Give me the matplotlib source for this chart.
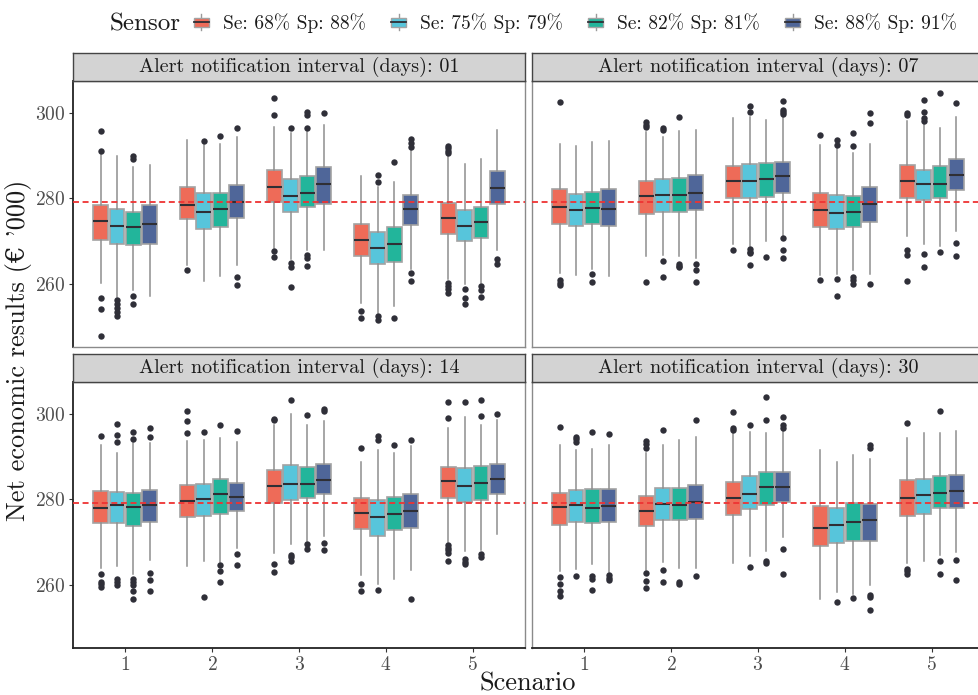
import matplotlib
matplotlib.use("Agg")
import matplotlib.pyplot as plt
from matplotlib.patches import Rectangle, Patch
from matplotlib.lines import Line2D
from matplotlib.legend_handler import HandlerBase

plt.rcParams['font.family'] = ['cmr10', 'DejaVu Serif']
plt.rcParams['axes.formatter.use_mathtext'] = True
plt.rcParams['axes.unicode_minus'] = False
plt.rcParams['lines.scale_dashes'] = False

# ---------------------------------------------------------------------------
# Data: rows = scenario 1..5, columns = sensor (68/88, 75/79, 82/81, 88/91)
# ---------------------------------------------------------------------------
scenarios = [1, 2, 3, 4, 5]
sensors = ["Se: 68% Sp: 88%", "Se: 75% Sp: 79%", "Se: 82% Sp: 81%", "Se: 88% Sp: 91%"]
sensor_colors = ["#EE6B58", "#57C5DB", "#22B59B", "#4F6699"]
intervals = ["01", "07", "14", "30"]
reference_value = 279.2

# interval 01
d01_lo = [[260.2, 256.9, 258.4, 257.2], [264.3, 260.6, 261.7, 264.3], [268.3, 265.8, 267.8, 267.8],
          [255.4, 253.1, 254.8, 263.5], [261.0, 260.0, 260.2, 268.0]]
d01_q1 = [[270.2, 269.2, 269.0, 269.4], [275.1, 272.8, 273.3, 275.4], [279.1, 276.8, 277.9, 278.8],
          [266.5, 264.5, 265.1, 273.8], [271.6, 270.1, 270.7, 278.6]]
d01_med = [[274.6, 273.5, 273.2, 274.0], [278.4, 276.8, 277.5, 279.1], [282.7, 280.6, 281.3, 283.5],
           [270.2, 268.3, 269.2, 277.6], [275.5, 273.6, 274.4, 282.5]]
d01_q3 = [[278.4, 277.6, 276.9, 278.4], [282.6, 281.2, 281.3, 283.2], [286.6, 284.5, 285.2, 287.3],
          [274.1, 272.1, 273.3, 280.8], [278.9, 277.4, 278.1, 286.5]]
d01_hi = [[290.4, 289.9, 287.3, 287.8], [293.7, 292.5, 292.9, 294.5], [296.9, 295.3, 295.7, 297.2],
          [285.3, 282.6, 283.8, 291.4], [290.0, 288.2, 289.2, 296.1]]
d01_out = [
    [[295.9, 291.1, 256.6, 254.1, 247.7], [256.1, 255.1, 254.2, 253.4, 252.5], [289.9, 289.3, 257.0, 255.3], []],
    [[263.1], [293.6], [294.7], [296.5, 261.6, 259.7]],
    [[303.7, 299.7, 267.7, 266.3], [296.5, 264.9, 263.9, 259.2], [300.4, 299.6, 296.5, 266.7, 266.0, 264.2], [300.1]],
    [[253.6, 251.8], [285.5, 283.8, 252.5, 251.5], [288.5, 252.0], [293.9, 293.1, 292.0, 262.4, 260.5]],
    [[292.4, 291.8, 291.1, 290.6, 260.2, 259.4, 258.7, 257.8], [258.8, 256.5, 255.2], [259.4, 258.6, 256.9],
     [265.7, 264.5]],
]

# interval 07
d07_lo = [[262.5, 262.1, 263.5, 261.7], [266.4, 266.7, 266.5, 266.1], [269.4, 268.8, 270.0, 271.0],
          [262.0, 262.3, 263.3, 262.2], [271.2, 269.4, 268.8, 272.3]]
d07_q1 = [[273.9, 273.6, 274.0, 273.6], [276.3, 276.8, 276.9, 277.2], [280.1, 280.2, 280.4, 281.4],
          [273.2, 272.9, 273.2, 274.4], [280.2, 279.6, 280.0, 282.1]]
d07_med = [[278.0, 277.4, 277.7, 277.6], [280.5, 280.9, 280.7, 281.2], [284.2, 284.1, 284.6, 285.2],
           [277.4, 276.7, 276.9, 278.7], [284.2, 283.5, 283.4, 285.4]]
d07_q3 = [[282.2, 281.1, 281.6, 282.2], [284.2, 284.5, 284.8, 285.4], [287.7, 288.0, 288.4, 288.5],
          [281.2, 280.7, 280.6, 282.7], [287.8, 286.6, 287.7, 289.2]]
d07_hi = [[292.8, 292.3, 293.2, 293.6], [295.7, 294.4, 295.9, 296.2], [298.8, 299.2, 298.4, 299.2],
          [292.5, 291.8, 290.6, 292.8], [298.2, 297.4, 296.6, 299.2]]
d07_out = [
    [[302.7, 260.8, 260.2, 259.7], [], [262.2, 260.3], []],
    [[297.9, 297.3, 296.8, 260.4], [296.6, 296.1, 265.2, 261.6], [299.2, 264.7, 264.2, 263.8], [264.5, 263.1, 260.4]],
    [[268.0], [301.7, 300.4, 268.2, 267.4, 267.1, 264.3], [266.3], [302.8, 300.9, 300.3, 299.8, 270.6, 267.8, 265.9]],
    [[295.0, 260.8], [293.7, 292.6, 261.0, 257.1], [295.3, 292.4, 261.6, 260.8, 260.0], [300.0, 297.8, 259.8]],
    [[300.0, 299.7, 267.8, 266.7, 260.5], [303.1, 300.3, 298.8, 298.1, 267.0, 263.8], [304.7, 267.4],
     [302.4, 269.5, 266.4]],
]

# interval 14
d14_lo = [[263.8, 264.4, 262.6, 265.7], [264.3, 265.5, 265.4, 268.5], [267.4, 269.6, 270.3, 271.4],
          [262.2, 260.2, 261.2, 263.4], [269.9, 267.9, 268.1, 272.0]]
d14_q1 = [[274.5, 274.4, 273.8, 274.7], [275.8, 276.2, 276.7, 277.4], [279.1, 279.8, 280.4, 281.2],
          [273.1, 271.5, 272.8, 273.2], [280.3, 279.4, 279.9, 281.2]]
d14_med = [[278.0, 278.6, 278.2, 278.8], [279.7, 280.1, 281.2, 280.5], [283.1, 283.7, 283.7, 284.6],
           [276.9, 275.8, 276.7, 277.2], [284.3, 283.1, 283.8, 284.7]]
d14_q3 = [[282.0, 281.8, 281.6, 282.2], [283.3, 283.7, 284.7, 283.8], [286.9, 288.0, 287.6, 288.3],
          [280.4, 279.8, 280.6, 281.3], [287.7, 287.5, 287.8, 288.3]]
d14_hi = [[292.8, 291.0, 293.3, 293.3], [293.7, 294.0, 294.5, 293.4], [297.6, 300.1, 297.4, 298.4],
          [288.8, 291.6, 291.0, 292.6], [296.7, 299.3, 297.5, 298.7]]
d14_out = [
    [[295.0, 262.6, 260.6, 260.1, 259.4], [297.8, 295.1, 293.5, 261.2, 260.5, 259.9],
     [295.9, 294.2, 261.2, 260.5, 259.9, 258.4, 256.6], [296.8, 294.7, 262.7, 261.0, 258.6]],
    [[300.8, 298.5, 295.5], [295.8, 257.2], [297.6, 264.6, 263.1, 260.6], [296.2, 267.3, 264.7]],
    [[298.9, 298.7, 264.8, 263.0], [303.4, 266.9, 266.5, 265.6], [299.9, 269.6, 268.4], [301.3, 300.8, 269.8, 268.2]],
    [[292.1, 260.1, 258.4], [295.0, 294.0, 258.8], [292.8], [294.0, 256.7]],
    [[302.9, 299.1, 269.2, 268.6, 268.1, 267.4, 265.6], [302.8, 265.9, 265.4, 264.9], [303.3, 299.7, 267.1, 266.5],
     [300.1]],
]

# interval 30
d30_lo = [[263.2, 263.7, 264.8, 263.0], [263.5, 265.3, 263.9, 264.0], [265.1, 266.7, 267.9, 271.2],
          [256.7, 258.2, 257.9, 259.8], [265.1, 265.6, 266.9, 267.7]]
d30_q1 = [[274.0, 274.7, 274.5, 274.6], [273.7, 275.1, 275.1, 275.4], [276.4, 277.7, 278.8, 279.4],
          [269.1, 269.8, 270.3, 270.3], [276.2, 276.7, 278.0, 278.0]]
d30_med = [[278.2, 278.6, 278.1, 278.5], [277.2, 279.0, 278.7, 279.4], [280.4, 281.4, 283.0, 282.9],
           [273.4, 274.0, 274.6, 275.1], [280.4, 281.0, 281.6, 282.0]]
d30_q3 = [[281.6, 282.2, 282.4, 282.5], [280.9, 282.7, 282.8, 283.4], [284.1, 285.6, 286.5, 286.4],
          [278.4, 278.0, 279.1, 278.9], [284.5, 284.8, 285.6, 285.8]]
d30_hi = [[292.9, 291.6, 291.8, 292.8], [291.0, 292.9, 294.0, 294.7], [295.5, 295.9, 295.5, 296.5],
          [291.6, 288.7, 290.4, 289.4], [294.4, 295.5, 295.5, 296.1]]
d30_out = [
    [[297.1, 261.8, 260.2, 258.5, 257.3], [294.7, 294.1, 293.5, 261.9], [295.8, 262.0, 261.3, 258.7],
     [295.4, 262.3, 261.6, 261.0]],
    [[293.7, 293.0, 292.2, 262.8, 260.8, 259.1], [296.3, 263.4, 260.5], [260.7, 260.2], [298.7, 261.9]],
    [[300.6, 296.9, 296.3], [297.4, 264.1], [304.0, 298.7, 265.5, 265.1], [299.3, 297.5, 296.9, 268.3, 262.4]],
    [[], [255.8], [256.8], [292.7, 292.1, 257.5, 257.1, 254.0]],
    [[298.0, 263.7, 263.2, 262.6], [], [300.9, 265.5, 262.6], [265.7, 261.0]],
]

panel_data = {
    "01": (d01_lo, d01_q1, d01_med, d01_q3, d01_hi, d01_out),
    "07": (d07_lo, d07_q1, d07_med, d07_q3, d07_hi, d07_out),
    "14": (d14_lo, d14_q1, d14_med, d14_q3, d14_hi, d14_out),
    "30": (d30_lo, d30_q1, d30_med, d30_q3, d30_hi, d30_out),
}

# ---------------------------------------------------------------------------
W, H = 979, 695
fig = plt.figure(figsize=(W / 100, H / 100), dpi=100)
fig.patch.set_facecolor("white")

col_x = [73, 532]
row_top = [81, 382]
panel_w, panel_h, strip_h = 452, 266, 28

dodge = [-0.283, -0.094, 0.094, 0.283]
box_w = 0.172
text_col = "#1a1a1a"
tick_col = "#4D4D4D"


def px_box(x0, y0, w, h):
    return [x0 / W, 1 - (y0 + h) / H, w / W, h / H]


for idx, key in enumerate(intervals):
    r, c = divmod(idx, 2)
    ax = fig.add_axes(px_box(col_x[c], row_top[r], panel_w, panel_h))
    lo, q1, med, q3, hi, out = panel_data[key]
    for si, scen in enumerate(scenarios):
        for k in range(4):
            st = dict(med=med[si][k], q1=q1[si][k], q3=q3[si][k],
                      whislo=lo[si][k], whishi=hi[si][k], fliers=out[si][k])
            ax.bxp([st], positions=[scen + dodge[k]], widths=box_w, patch_artist=True,
                   showcaps=False, manage_ticks=False,
                   boxprops=dict(facecolor=sensor_colors[k], edgecolor="#a3a3a3", linewidth=1.2),
                   medianprops=dict(color="#2f2f35", linewidth=1.5),
                   whiskerprops=dict(color="#8e8e8e", linewidth=1.1),
                   flierprops=dict(marker="o", markersize=4.6, markerfacecolor="#2f2f38",
                                   markeredgecolor="none"))
    ax.axhline(reference_value, color="#EE3333", linestyle=(0, (4.3, 2.6)), linewidth=1.3, zorder=5)
    ax.set_xlim(0.4, 5.6)
    ax.set_ylim(245.1, 307.6)
    ax.set_xticks(scenarios)
    ax.set_yticks([260, 280, 300])
    ax.tick_params(colors="#333333", labelcolor=tick_col, labelsize=14, length=3, width=0.8, pad=2.5)
    if c == 1:
        ax.tick_params(axis="y", left=False, labelleft=False)
    if r == 0:
        ax.tick_params(axis="x", bottom=False, labelbottom=False)
    for s in ax.spines.values():
        s.set_color("#8a8a8a")
        s.set_linewidth(1.0)
    if c == 0:
        ax.spines["left"].set_color("#222222")
        ax.spines["left"].set_linewidth(1.3)
    if r == 1:
        ax.spines["bottom"].set_color("#222222")
        ax.spines["bottom"].set_linewidth(1.3)

    sax = fig.add_axes(px_box(col_x[c], row_top[r] - strip_h, panel_w, strip_h))
    sax.set_facecolor("#D3D3D3")
    sax.set_xticks([])
    sax.set_yticks([])
    for s in sax.spines.values():
        s.set_color("#444444")
        s.set_linewidth(1.0)
    sax.text(0.5, 0.5, f"Alert notification interval (days): {key}", transform=sax.transAxes,
             ha="center", va="center", fontsize=14.5, color=text_col)

# axis titles
fig.text(19 / W, 1 - 350 / H, "Net economic results (€ '000)", rotation=90, ha="center",
         va="center", fontsize=19, color=text_col)
fig.text(528 / W, 1 - 684 / H, "Scenario", ha="center", va="center", fontsize=19, color=text_col)


# legend with boxplot keys
class BoxKey(HandlerBase):
    def create_artists(self, legend, orig_handle, xdescent, ydescent, width, height, fontsize, trans):
        color = orig_handle.get_facecolor()
        x0, y0 = -xdescent, -ydescent
        cx = x0 + width / 2
        whisk = Line2D([cx, cx], [y0 - 0.15 * height, y0 + 1.15 * height], color="#9a9a9a",
                       linewidth=1.0, transform=trans)
        box = Rectangle((x0, y0 + 0.15 * height), width, 0.7 * height, facecolor=color,
                        edgecolor="#a3a3a3", linewidth=1.0, transform=trans)
        mid = Line2D([x0, x0 + width], [y0 + 0.5 * height] * 2, color="#2f2f35", linewidth=1.3,
                     transform=trans)
        return [whisk, box, mid]


handles = [Patch(facecolor=col) for col in sensor_colors]
fig.text(110 / W, 1 - 24 / H, "Sensor", ha="left", va="center", fontsize=18, color=text_col)
fig.legend(handles, sensors, handler_map={Patch: BoxKey()}, loc="center left",
           bbox_to_anchor=(194 / W, 1 - 23 / H), ncol=4, frameon=False, fontsize=14,
           handlelength=0.77, handleheight=0.65, handletextpad=0.72, columnspacing=1.3,
           borderpad=0, borderaxespad=0, labelcolor=text_col)

fig.savefig("out.png", dpi=100)
